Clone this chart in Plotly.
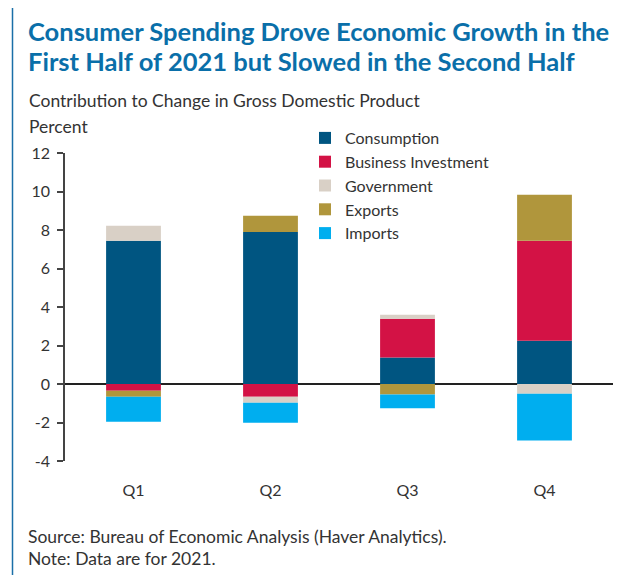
import plotly.graph_objects as go

quarters = ["Q1", "Q2", "Q3", "Q4"]
consumption = [7.44, 7.90, 1.38, 2.25]
business_investment = [-0.35, -0.66, 2.01, 5.19]
government = [0.78, -0.31, 0.21, -0.50]
exports = [-0.31, 0.84, -0.55, 2.39]
imports = [-1.30, -1.04, -0.71, -2.43]

series_names = ["Consumption", "Business Investment", "Government", "Exports", "Imports"]
series_values = [consumption, business_investment, government, exports, imports]
series_colors = ["#005581", "#d31245", "#d9d0c6", "#b0963c", "#00aeef"]

y_tick_vals = [-4, -2, 0, 2, 4, 6, 8, 10, 12]
y_tick_text = ["-4", "-2", "0", "2", "4", "6", "8", "10", "12"]

OFF = 8  # page body margin
W, H = 630, 567
L, R, T, B = 57, 25, 145, 114
PW, PH = W - L - R, H - T - B


def px(x):
    return (x - OFF - L) / PW


def py(y):
    return (H - B - (y - OFF)) / PH


FONT = "Lato"
TXT = "#333333"
BLUE = "#0a6fa9"

fig = go.Figure()
for name, vals, col in zip(series_names, series_values, series_colors):
    fig.add_trace(go.Bar(x=quarters, y=vals, name=name, marker=dict(color=col, line=dict(width=0)),
                         width=0.4))

annotations = [
    dict(text="<b>Consumer Spending Drove Economic Growth in the</b>", x=px(26), y=py(31),
         font=dict(size=25.5, color=BLUE, family=FONT)),
    dict(text="<b>First Half of 2021 but Slowed in the Second Half</b>", x=px(26), y=py(61),
         font=dict(size=25.5, color=BLUE, family=FONT)),
    dict(text="Contribution to Change in Gross Domestic Product", x=px(27), y=py(100),
         font=dict(size=17.5, color=TXT, family=FONT)),
    dict(text="Percent", x=px(27), y=py(127), font=dict(size=17.5, color=TXT, family=FONT)),
    dict(text="Source: Bureau of Economic Analysis (Haver Analytics).", x=px(26), y=py(536),
         font=dict(size=17.5, color=TXT, family=FONT)),
    dict(text="Note: Data are for 2021.", x=px(26), y=py(558),
         font=dict(size=17.5, color=TXT, family=FONT)),
]
for a in annotations:
    a.update(xref="paper", yref="paper", xanchor="left", yanchor="middle", showarrow=False)

fig.update_layout(
    width=W, height=H,
    margin=dict(l=L, r=R, t=T, b=B),
    paper_bgcolor="white", plot_bgcolor="white",
    barmode="relative",
    font=dict(family=FONT, size=16, color=TXT),
    annotations=annotations,
    showlegend=True,
    legend=dict(x=px(305), y=py(121), xanchor="left", yanchor="top",
                font=dict(size=16, color=TXT, family=FONT), bgcolor="rgba(0,0,0,0)",
                tracegroupgap=0, traceorder="normal"),
    shapes=[
        dict(type="line", xref="paper", yref="paper", x0=px(12.5), x1=px(12.5), y0=py(6), y1=py(590),
             line=dict(color="#1b6fa8", width=1.5)),
        dict(type="line", xref="paper", yref="paper", x0=px(12.5), x1=px(650), y0=py(6), y1=py(6),
             line=dict(color="#1b6fa8", width=1.5)),
    ],
)
fig.update_xaxes(showline=False, showgrid=False, ticks="", ticklabelstandoff=18,
                 tickfont=dict(size=16, color=TXT), range=[-0.5, 3.5])
fig.update_yaxes(range=[-4, 12], tickvals=y_tick_vals, ticktext=y_tick_text,
                 showgrid=False, showline=True, linecolor="#444444", linewidth=1.5,
                 ticks="outside", ticklen=6, tickcolor="#444444", tickwidth=1.5,
                 ticklabelstandoff=4,
                 zeroline=True, zerolinecolor="#222222", zerolinewidth=1.5,
                 tickfont=dict(size=16, color=TXT))

fig.write_html("out.html")
